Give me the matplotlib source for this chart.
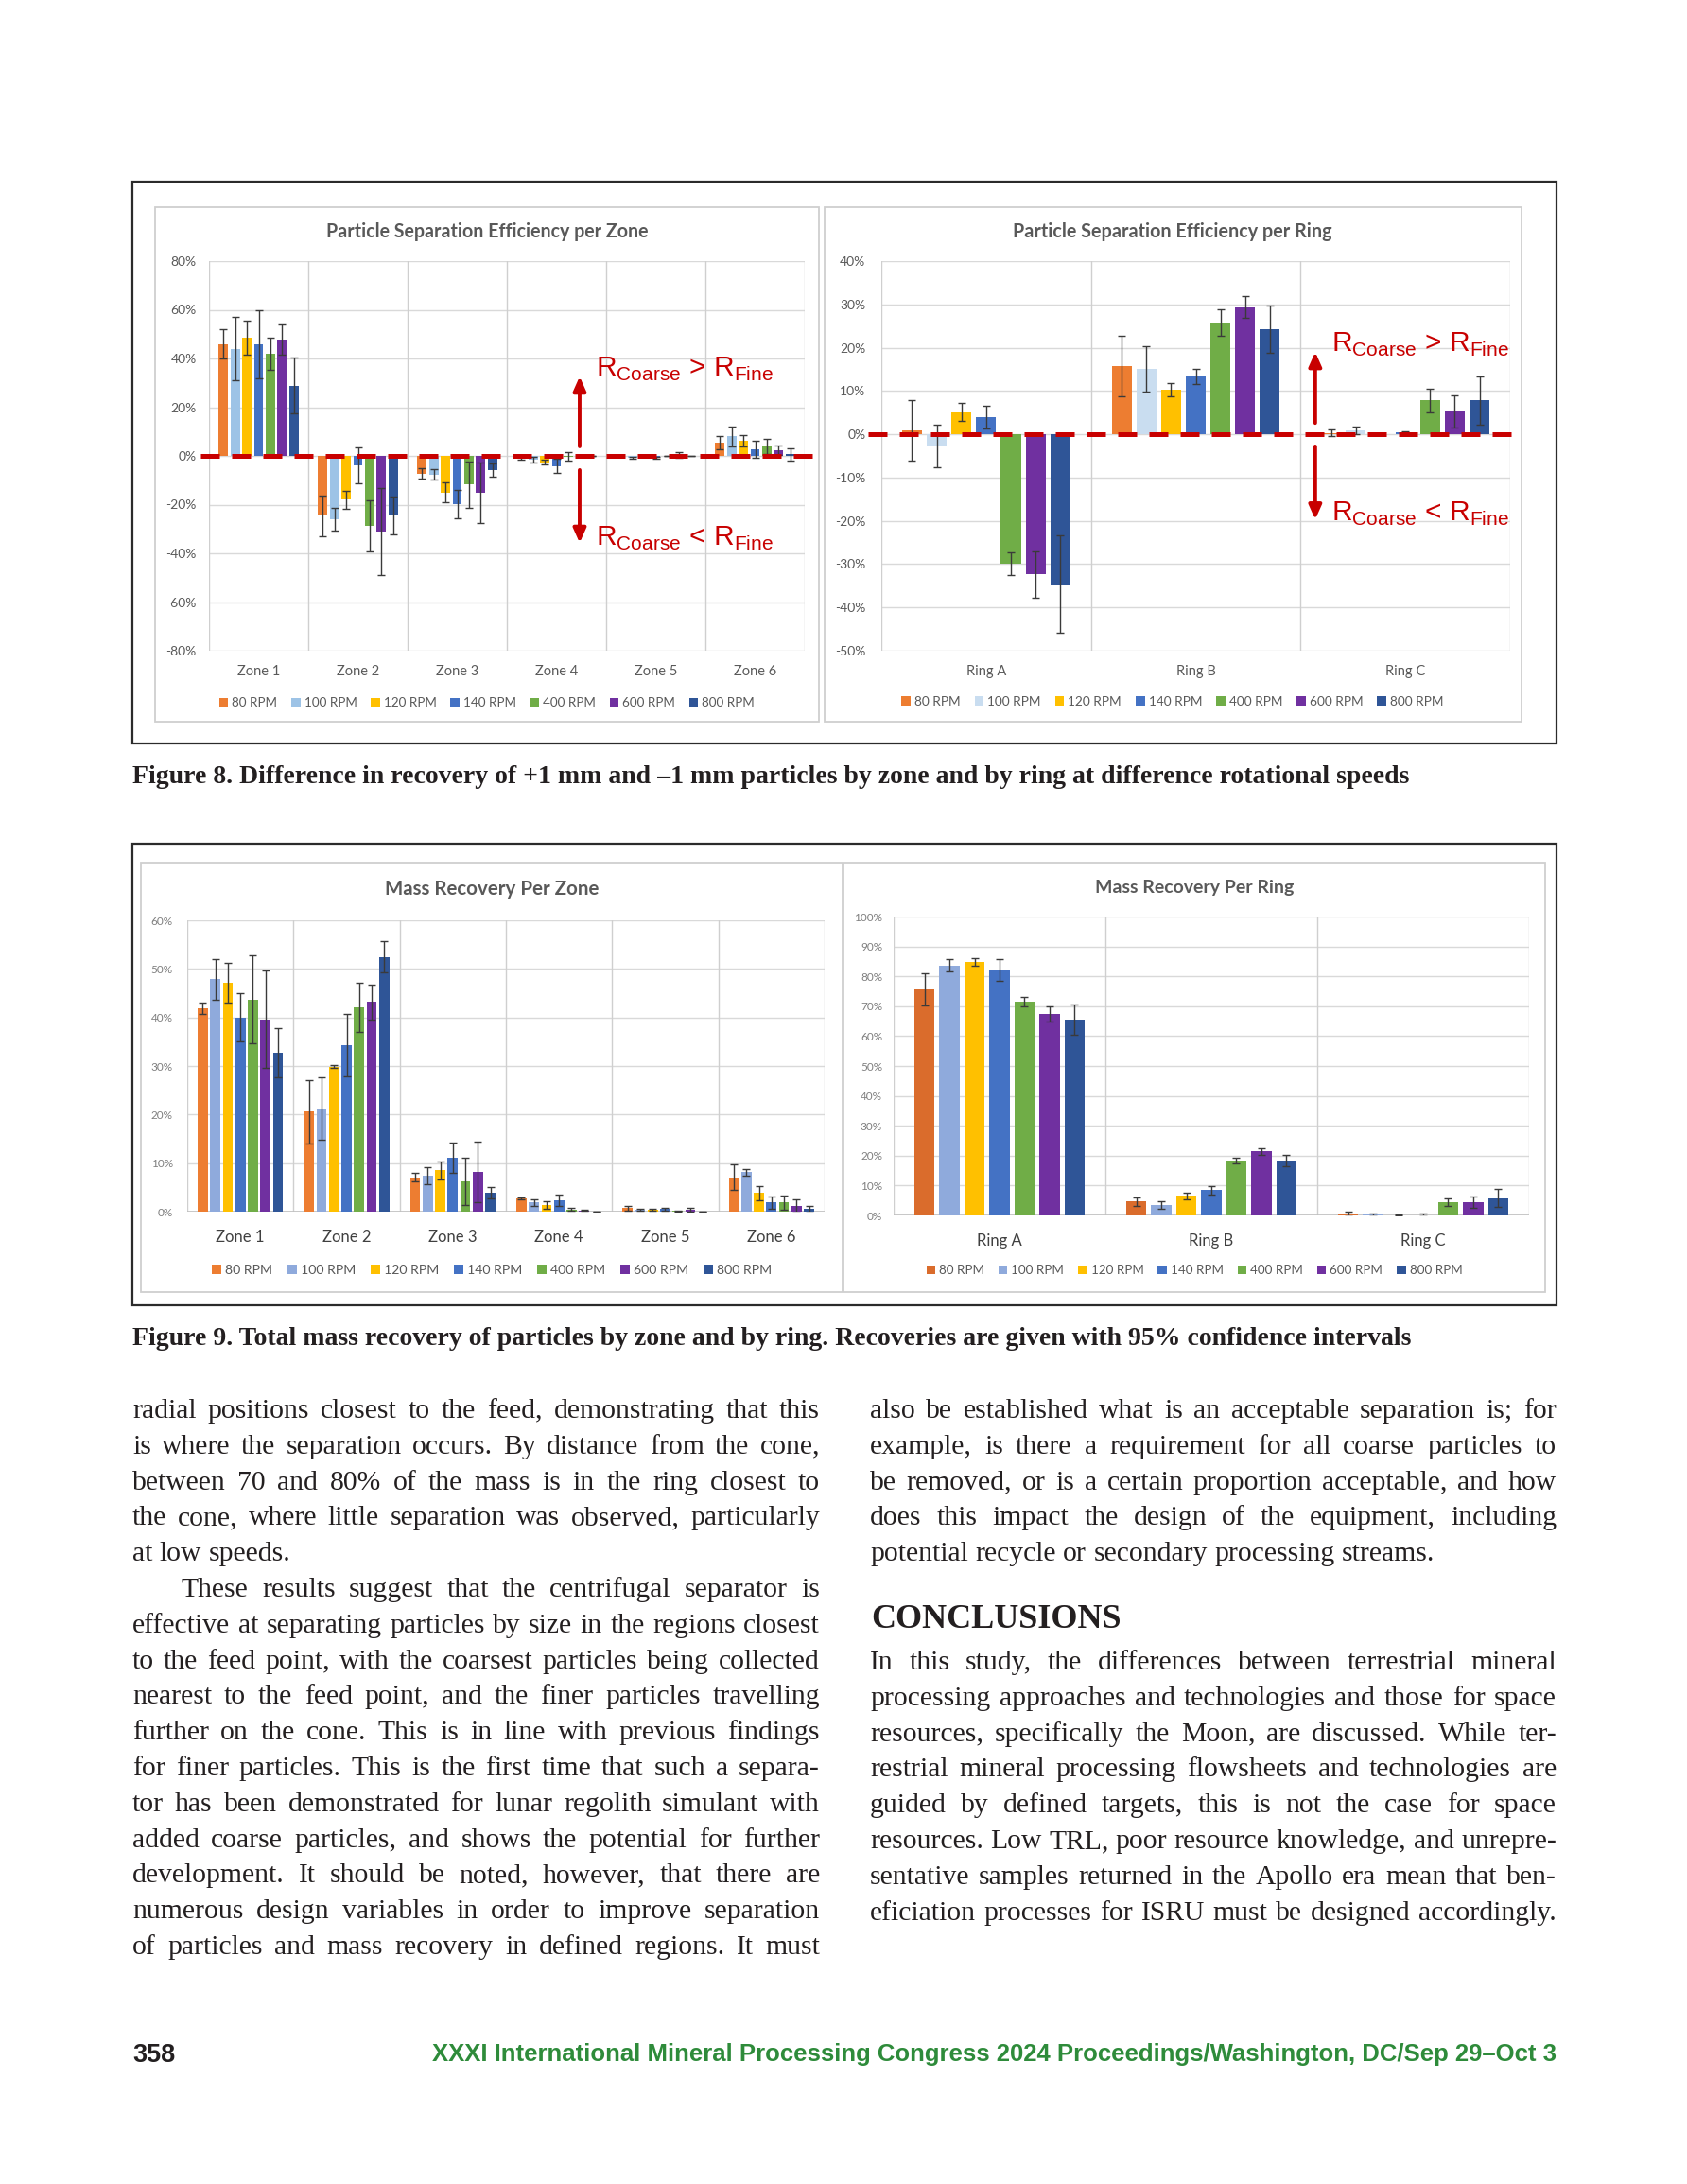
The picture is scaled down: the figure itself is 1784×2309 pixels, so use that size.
import matplotlib
matplotlib.use('Agg')
import matplotlib.pyplot as plt
from matplotlib.patches import Rectangle
from matplotlib import font_manager
import numpy as np

# ---------------- DATA ----------------
speeds = ['80 RPM', '100 RPM', '120 RPM', '140 RPM', '400 RPM', '600 RPM', '800 RPM']
zones = ['Zone 1', 'Zone 2', 'Zone 3', 'Zone 4', 'Zone 5', 'Zone 6']
rings = ['Ring A', 'Ring B', 'Ring C']

# Particle separation efficiency per zone (%), rows = speeds, cols = zones
sep_zone = [
    [46.0, -24.6, -7.2, -1.0, 0.0, 5.4],
    [44.0, -26.0, -7.6, -1.5, -0.8, 8.0],
    [48.4, -18.0, -15.0, -2.6, 0.0, 6.2],
    [46.0, -3.9, -19.8, -4.1, -0.8, 2.6],
    [42.0, -28.8, -11.8, -0.3, 0.0, 3.9],
    [47.7, -31.1, -15.2, 0.0, 0.4, 2.3],
    [28.8, -24.6, -5.8, 0.0, 0.1, 0.6],
]
sep_zone_err = [
    [6.0, 8.3, 2.3, 0.5, 0.0, 2.7],
    [13.0, 4.5, 2.2, 1.3, 0.5, 4.0],
    [7.0, 3.7, 4.0, 1.0, 0.0, 2.4],
    [14.0, 7.3, 6.0, 2.8, 0.5, 3.5],
    [6.5, 10.5, 9.5, 1.8, 0.0, 3.0],
    [6.2, 18.0, 12.3, 0.0, 1.3, 1.8],
    [11.5, 7.8, 2.7, 0.0, 0.0, 2.6],
]
# Particle separation efficiency per ring (%)
sep_ring = [
    [0.9, 15.7, 0.3],
    [-2.7, 15.1, 0.9],
    [5.1, 10.3, 0.1],
    [4.0, 13.3, 0.4],
    [-29.9, 25.8, 7.8],
    [-32.4, 29.4, 5.2],
    [-34.6, 24.3, 7.8],
]
sep_ring_err = [
    [7.0, 7.0, 0.8],
    [5.0, 5.3, 0.9],
    [2.1, 1.6, 0.1],
    [2.6, 1.8, 0.3],
    [2.7, 3.0, 2.8],
    [5.4, 2.5, 3.7],
    [11.2, 5.5, 5.5],
]
# Mass recovery per zone (%)
mass_zone = [
    [41.9, 20.6, 7.1, 2.8, 0.7, 7.05],
    [47.9, 21.3, 7.4, 1.9, 0.4, 8.1],
    [47.2, 29.9, 8.5, 1.35, 0.3, 3.85],
    [40.0, 34.3, 11.1, 2.3, 0.5, 1.9],
    [43.7, 42.1, 6.3, 0.4, 0.1, 1.9],
    [39.6, 43.2, 8.2, 0.2, 0.4, 1.15],
    [32.7, 52.5, 3.9, 0.0, 0.0, 0.5],
]
mass_zone_err = [
    [1.2, 6.5, 0.9, 0.2, 0.5, 2.6],
    [4.2, 6.4, 1.8, 0.7, 0.2, 0.6],
    [4.1, 0.3, 1.9, 0.8, 0.2, 1.5],
    [5.0, 6.5, 3.1, 1.2, 0.3, 1.3],
    [9.0, 5.1, 4.9, 0.3, 0.1, 1.5],
    [10.0, 3.6, 6.2, 0.1, 0.4, 1.4],
    [5.0, 3.2, 1.1, 0.0, 0.0, 0.65],
]
# Mass recovery per ring (%)
mass_ring = [
    [75.6, 4.6, 0.5],
    [83.7, 3.4, 0.2],
    [84.8, 6.5, 0.1],
    [82.1, 8.4, 0.1],
    [71.4, 18.3, 4.4],
    [67.4, 21.4, 4.4],
    [65.5, 18.3, 5.8],
]
mass_ring_err = [
    [5.3, 1.3, 0.7],
    [2.2, 1.2, 0.4],
    [1.3, 1.1, 0.1],
    [3.7, 1.3, 0.5],
    [1.6, 1.0, 1.2],
    [2.5, 1.0, 1.8],
    [5.2, 2.0, 3.0],
]

titles = ['Particle Separation Efficiency per Zone', 'Particle Separation Efficiency per Ring',
          'Mass Recovery Per Zone', 'Mass Recovery Per Ring']
caption8 = ('Figure 8. Difference in recovery of +1 mm and \u20131 mm particles by zone and by ring '
            'at difference rotational speeds')
caption9 = ('Figure 9. Total mass recovery of particles by zone and by ring. Recoveries are given '
            'with 95% confidence intervals')

left_lines = [
    ('radial positions closest to the feed, demonstrating that this', True, 0),
    ('is where the separation occurs. By distance from the cone,', True, 0),
    ('between 70 and 80% of the mass is in the ring closest to', True, 0),
    ('the cone, where little separation was observed, particularly', True, 0),
    ('at low speeds.', False, 0),
    ('These results suggest that the centrifugal separator is', True, 1),
    ('effective at separating particles by size in the regions closest', True, 0),
    ('to the feed point, with the coarsest particles being collected', True, 0),
    ('nearest to the feed point, and the finer particles travelling', True, 0),
    ('further on the cone. This is in line with previous findings', True, 0),
    ('for finer particles. This is the first time that such a separa-', True, 0),
    ('tor has been demonstrated for lunar regolith simulant with', True, 0),
    ('added coarse particles, and shows the potential for further', True, 0),
    ('development. It should be noted, however, that there are', True, 0),
    ('numerous design variables in order to improve separation', True, 0),
    ('of particles and mass recovery in defined regions. It must', True, 0),
]
right_lines_a = [
    ('also be established what is an acceptable separation is; for', True, 0),
    ('example, is there a requirement for all coarse particles to', True, 0),
    ('be removed, or is a certain proportion acceptable, and how', True, 0),
    ('does this impact the design of the equipment, including', True, 0),
    ('potential recycle or secondary processing streams.', False, 0),
]
heading = 'CONCLUSIONS'
right_lines_b = [
    ('In this study, the differences between terrestrial mineral', True, 0),
    ('processing approaches and technologies and those for space', True, 0),
    ('resources, specifically the Moon, are discussed. While ter-', True, 0),
    ('restrial mineral processing flowsheets and technologies are', True, 0),
    ('guided by defined targets, this is not the case for space', True, 0),
    ('resources. Low TRL, poor resource knowledge, and unrepre-', True, 0),
    ('sentative samples returned in the Apollo era mean that ben-', True, 0),
    ('eficiation processes for ISRU must be designed accordingly.', True, 0),
]
page_number = '358'
footer = 'XXXI International Mineral Processing Congress 2024 Proceedings/Washington, DC/Sep 29\u2013Oct 3'

# ---------------- STYLE / LAYOUT ----------------
def has_font(name):
    try:
        font_manager.findfont(font_manager.FontProperties(family=name), fallback_to_default=False)
        return True
    except Exception:
        return False

SANS = 'Lato' if has_font('Lato') else 'DejaVu Sans'
SERIF = 'Liberation Serif' if has_font('Liberation Serif') else 'DejaVu Serif'
ARIAL = 'Liberation Sans' if has_font('Liberation Sans') else 'DejaVu Sans'
NARROW = 'Liberation Sans Narrow' if has_font('Liberation Sans Narrow') else ARIAL
plt.rcParams['font.family'] = [SANS, 'DejaVu Sans']

W, H = 1784, 2309
fig = plt.figure(figsize=(W / 100, H / 100), dpi=100)
fig.patch.set_facecolor('white')
renderer = fig.canvas.get_renderer()

RED = '#C80000'
TXT = '#231F20'
GRAY = '#595959'
c8 = ['#ED7D31', '#9DC3E6', '#FFC000', '#4472C4', '#70AD47', '#7030A0', '#2F5597']
c8r = ['#ED7D31', '#C9DDF0', '#FFC000', '#4472C4', '#70AD47', '#7030A0', '#2F5597']
c9 = ['#ED7D31', '#8FAADC', '#FFC000', '#4472C4', '#70AD47', '#7030A0', '#2F5597']
c9r = ['#DA6C2C', '#8FAADC', '#FFC000', '#4472C4', '#70AD47', '#7030A0', '#2F5597']
PITCH = 0.118
BARW = 0.095


def rect(x0, y0, x1, y1, ec, lw):
    fig.add_artist(Rectangle((x0 / W, 1 - y1 / H), (x1 - x0) / W, (y1 - y0) / H,
                             transform=fig.transFigure, fill=False, ec=ec, lw=lw))


def add_ax(x0, y0, x1, y1):
    return fig.add_axes([x0 / W, 1 - y1 / H, (x1 - x0) / W, (y1 - y0) / H])


def fit(t, target):
    w = t.get_window_extent(renderer).width
    t.set_fontsize(t.get_fontsize() * target / w)
    return t


def chart(ax, cats, vals, errs, colors, ylim, ystep, ytfs, ytcol, xtfs, xpad, ypad, xcol=GRAY):
    n = len(cats)
    x = np.arange(n)
    for i in range(len(speeds)):
        ax.bar(x + (i - 3) * PITCH, vals[i], BARW, color=colors[i], yerr=errs[i],
               error_kw=dict(ecolor='#3a3a3a', elinewidth=1.0, capsize=2.8, capthick=1.0, zorder=4),
               label=speeds[i], zorder=3)
    ax.set_xlim(-0.5, n - 0.5)
    ax.set_ylim(*ylim)
    ticks = np.arange(ylim[0], ylim[1] + 0.01, ystep)
    ax.set_yticks(ticks)
    ax.set_yticklabels([f'{int(round(t))}%' for t in ticks])
    ax.yaxis.grid(True, color='#D9D9D9', lw=1.0)
    ax.set_axisbelow(True)
    for b in np.arange(-0.5, n, 1.0):
        ax.axvline(b, color='#CFCFCF', lw=1.0, zorder=1)
    for s in ax.spines.values():
        s.set_visible(False)
    ax.set_xticks(x)
    ax.set_xticklabels(cats)
    ax.tick_params(axis='both', length=0)
    ax.tick_params(axis='x', pad=xpad, labelsize=xtfs, labelcolor=xcol)
    ax.tick_params(axis='y', pad=ypad, labelsize=ytfs, labelcolor=ytcol)
    for lb in ax.get_xticklabels() + ax.get_yticklabels():
        lb.set_family(SANS)


def legend(ax, cx, cy, target):
    h, l = ax.get_legend_handles_labels()
    fs = 9.5
    for _ in range(2):
        lg = ax.legend(h, l, loc='center', bbox_to_anchor=(cx / W, 1 - cy / H),
                       bbox_transform=fig.transFigure, ncol=7, frameon=False,
                       handlelength=0.7, handleheight=0.7, handletextpad=0.3,
                       columnspacing=1.1, prop=dict(family=SANS, size=fs), labelcolor=GRAY,
                       borderpad=0, borderaxespad=0)
        w = lg.get_window_extent(renderer).width
        fs = fs * target / w
    return lg


def title(cx, cy, s, target, weight='bold'):
    t = fig.text(cx / W, 1 - cy / H, s, ha='center', va='center', family=SANS,
                 weight=weight, color=GRAY, fontsize=13)
    fit(t, target)


# ---------------- FIGURE 8 ----------------
rect(140, 192, 1646, 786, '#2b2b2b', 1.6)
rect(164, 219, 866, 763, '#CFCFCF', 1.3)
rect(872, 219, 1609, 763, '#CFCFCF', 1.3)

ax1 = add_ax(221, 276, 851, 688)
chart(ax1, zones, sep_zone, sep_zone_err, c8, (-80, 80), 20, 10, GRAY, 10.5, 11, 9.5)
ax1.axhline(0, xmin=-0.015, xmax=1.024, color=RED, lw=3.6, dashes=(4.0, 2.6),
            clip_on=False, zorder=5)
legend(ax1, 515, 743, 568)
title(515, 245, titles[0], 340)

ax2 = add_ax(932, 276, 1597, 688)
chart(ax2, rings, sep_ring, sep_ring_err, c8r, (-50, 40), 10, 10, GRAY, 10.5, 11, 12)
ax2.axhline(0, xmin=-0.021, xmax=1.021, color=RED, lw=3.6, dashes=(4.0, 2.6),
            clip_on=False, zorder=5)
legend(ax2, 1240, 742, 575)
title(1240, 245, titles[1], 336)

arrow_kw = dict(arrowstyle='-|>,head_length=0.45,head_width=0.2', lw=2.8, color=RED,
                mutation_scale=20, shrinkA=0, shrinkB=0)
ax1.annotate('', xy=(3.233, 32.6), xytext=(3.233, 3.9), arrowprops=arrow_kw, zorder=6)
ax1.annotate('', xy=(3.233, -35.7), xytext=(3.233, -5.8), arrowprops=arrow_kw, zorder=6)
ax2.annotate('', xy=(1.57, 19.0), xytext=(1.57, 2.6), arrowprops=arrow_kw, zorder=6)
ax2.annotate('', xy=(1.57, -19.7), xytext=(1.57, -2.8), arrowprops=arrow_kw, zorder=6)

gt = r'R$_{\mathregular{Coarse}}$ > R$_{\mathregular{Fine}}$'
lt = r'R$_{\mathregular{Coarse}}$ < R$_{\mathregular{Fine}}$'
for ax, xx, y1, y2 in [(ax1, 3.40, 32.6, -36.9), (ax2, 1.647, 19.0, -20.1)]:
    for s, yy in [(gt, y1), (lt, y2)]:
        t = ax.text(xx, yy, s, color=RED, family=ARIAL, fontsize=20, ha='left', va='baseline',
                    zorder=6)
        fit(t, 188)

# ---------------- FIGURE 9 ----------------
rect(140, 892, 1646, 1380, '#2b2b2b', 1.6)
rect(149, 912, 891, 1366, '#CFCFCF', 1.3)
rect(892, 912, 1634, 1366, '#CFCFCF', 1.3)

ax3 = add_ax(198, 973, 872, 1281)
chart(ax3, zones, mass_zone, mass_zone_err, c9, (0, 60), 10, 8.5, '#7F7F7F', 12, 13.5, 11,
      xcol='#404040')
ax3.axhline(0, color='#BFBFBF', lw=1.2, zorder=2)
legend(ax3, 520, 1343, 598)
title(520, 940, titles[2], 227)

ax4 = add_ax(945, 969, 1617, 1285)
chart(ax4, rings, mass_ring, mass_ring_err, c9r, (0, 100), 10, 8.5, '#7F7F7F', 12, 14, 8.6,
      xcol='#404040')
ax4.axhline(0, color='#BFBFBF', lw=1.2, zorder=2)
legend(ax4, 1263, 1343, 569)
title(1263, 939, titles[3], 210)

# ---------------- CAPTIONS ----------------
c8t = fig.text(140 / W, 1 - 828 / H, caption8, family=SERIF, weight='bold', color=TXT,
               fontsize=17, ha='left', va='baseline')
fit(c8t, 1349)
fig.text(140 / W, 1 - 1422 / H, caption9, family=SERIF, weight='bold', color=TXT,
         fontsize=c8t.get_fontsize(), ha='left', va='baseline')

# ---------------- BODY TEXT ----------------
_cache = {}


def wwidth(w, fs, weight='normal'):
    key = (w, fs, weight)
    if key not in _cache:
        t = fig.text(0, 0, w, fontsize=fs, family=SERIF, weight=weight)
        _cache[key] = t.get_window_extent(renderer).width
        t.remove()
    return _cache[key]


COLW = [(140, 867), (920, 1646)]
INDENT = 52
fs0 = 20.0
sp0 = wwidth('a a', fs0) - wwidth('aa', fs0)
ratios = []
for lines, (x0, x1) in [(left_lines, COLW[0]), (right_lines_a, COLW[1]), (right_lines_b, COLW[1])]:
    for s, just, ind in lines:
        if just:
            words = s.split(' ')
            nat = sum(wwidth(w, fs0) for w in words) + sp0 * (len(words) - 1)
            ratios.append((x1 - x0 - ind * INDENT) / nat)
BFS = fs0 * min(ratios) * 0.997
SP = wwidth('a a', BFS) - wwidth('aa', BFS)


def draw_line(s, x0, x1, yb, justify):
    words = s.split(' ')
    widths = [wwidth(w, BFS) for w in words]
    gap = (x1 - x0 - sum(widths)) / (len(words) - 1) if (justify and len(words) > 1) else SP
    x = x0
    for w, wd in zip(words, widths):
        fig.text(x / W, 1 - yb / H, w, family=SERIF, fontsize=BFS, color=TXT,
                 ha='left', va='baseline')
        x += wd + gap


BASE0 = 1499
LSTEP = 37.8
for k, (s, just, ind) in enumerate(left_lines):
    draw_line(s, COLW[0][0] + ind * INDENT, COLW[0][1], BASE0 + k * LSTEP, just)
for k, (s, just, ind) in enumerate(right_lines_a):
    draw_line(s, COLW[1][0], COLW[1][1], BASE0 + k * LSTEP, just)
ht = fig.text(921 / W, 1 - 1721 / H, heading, family=SERIF, weight='bold', color=TXT,
              fontsize=22, ha='left', va='baseline')
fit(ht, 264)
for k, (s, just, ind) in enumerate(right_lines_b):
    draw_line(s, COLW[1][0], COLW[1][1], BASE0 + 1.5 + (k + 7) * LSTEP, just)

# ---------------- FOOTER ----------------
pn = fig.text(140 / W, 1 - 2180 / H, page_number, family=NARROW, weight='bold', color=TXT,
              fontsize=18, ha='left', va='baseline')
fit(pn, 45)
ft = fig.text(1646 / W, 1 - 2179 / H, footer, family=NARROW, weight='bold', color='#2E8B3A',
              fontsize=18, ha='right', va='baseline')
fit(ft, 1190)

fig.savefig('out.png', dpi=100, facecolor='white')
